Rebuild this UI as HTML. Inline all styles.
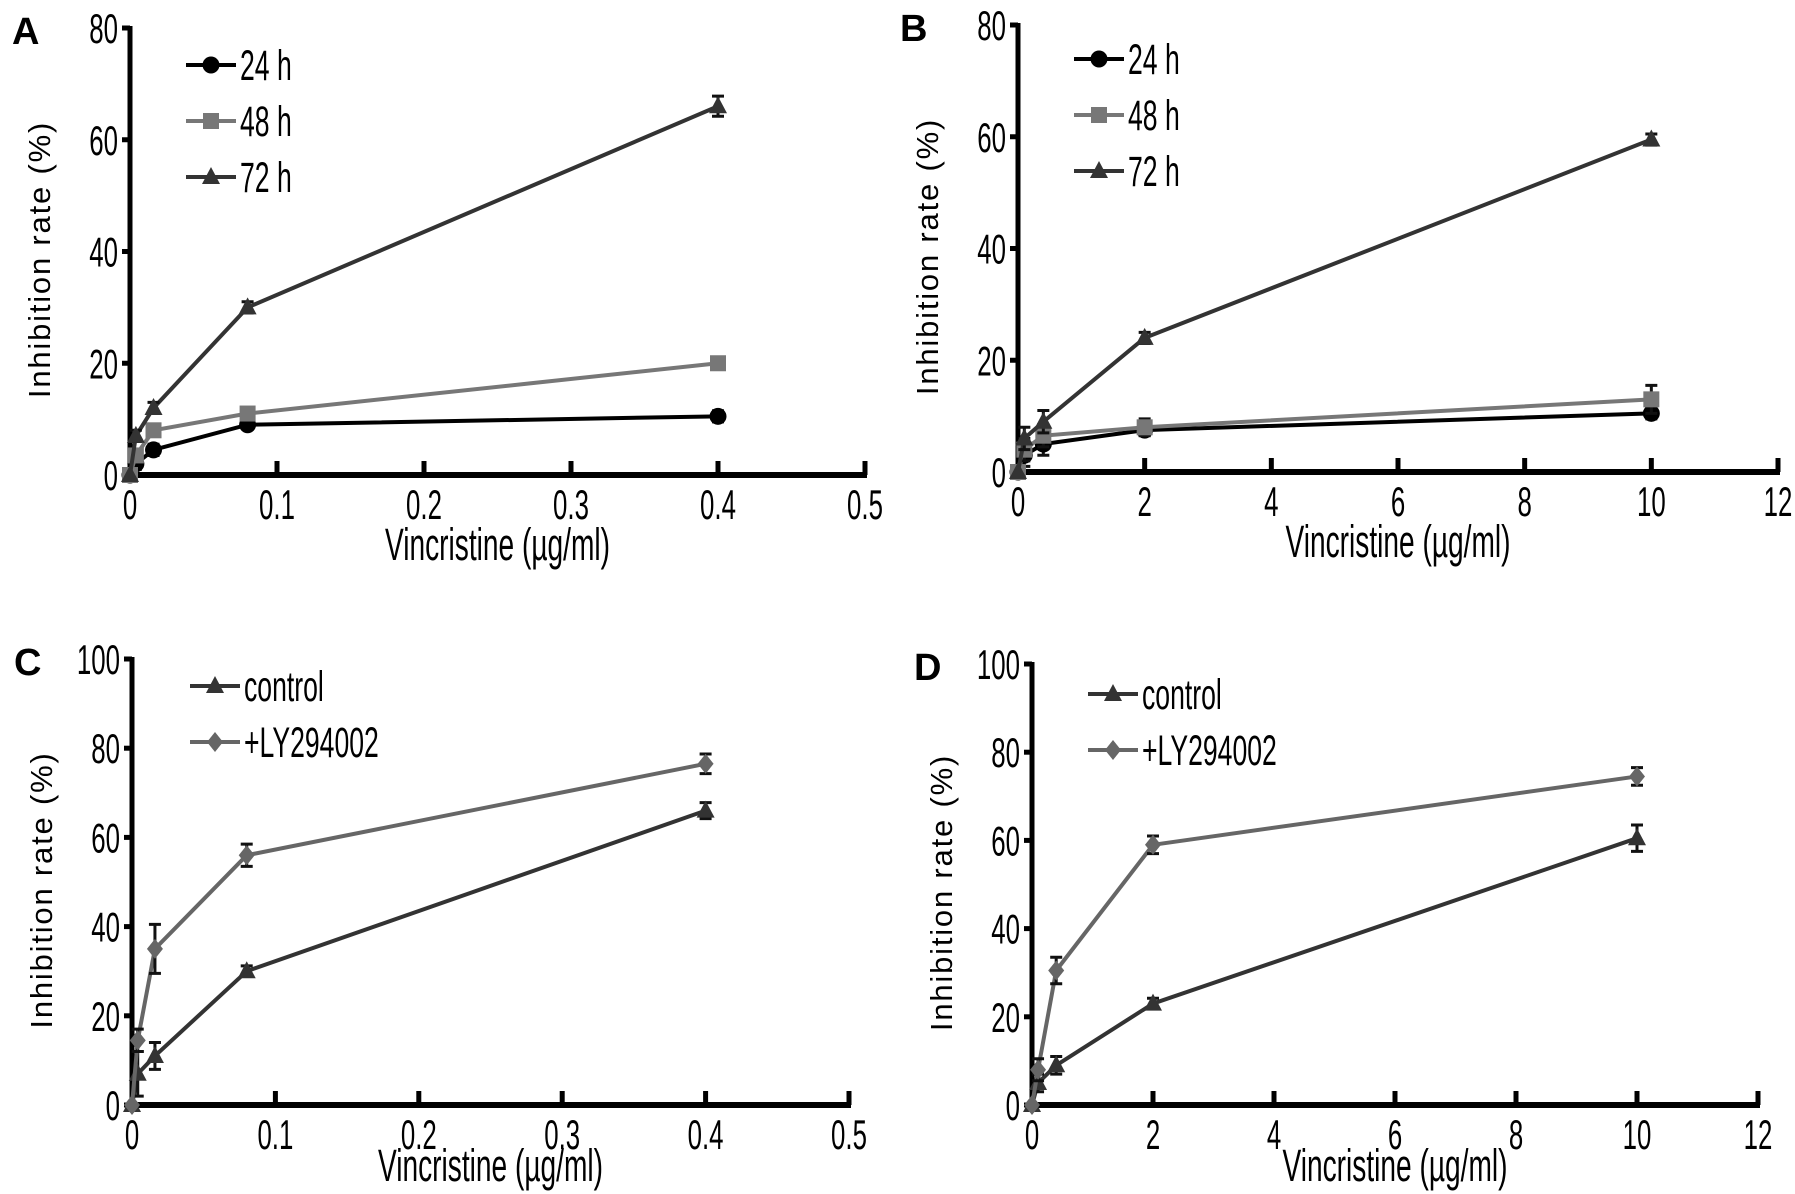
<!DOCTYPE html>
<html><head><meta charset="utf-8"><style>
html,body{margin:0;padding:0;background:#fff}
svg{display:block}
text{font-family:"Liberation Sans",sans-serif}
.lab{font-weight:bold}
</style></head><body>
<svg id="fig" width="1795" height="1194" viewBox="0 0 1795 1194" xmlns="http://www.w3.org/2000/svg"></svg>
<script>
// Panel A data
const aX = [0, 0.004, 0.016, 0.08, 0.4];
const a24 = [0, 2, 4.5, 9, 10.5];
const a48 = [0, 3.5, 8, 11, 20];
const a72 = [0, 7, 12, 30, 66];
const a24e = [0, 1, 1, 0.8, 1];
const a48e = [0, 1, 1, 0.8, 1];
const a72e = [0, 1, 1, 1, 1.8];
// Panel B data
const bX = [0, 0.1, 0.4, 2, 10];
const b24 = [0, 3, 5, 7.5, 10.5];
const b48 = [0, 4, 6.5, 8, 13];
const b72 = [0, 6, 9, 24, 59.5];
const b24e = [0, 2, 2, 1, 1];
const b48e = [0, 2, 2, 1.5, 2.5];
const b72e = [0, 2, 2, 1, 1];
// Panel C data
const cX = [0, 0.004, 0.016, 0.08, 0.4];
const cCtrl = [0, 7, 11, 30, 66];
const cLY = [0, 14.5, 35, 56, 76.5];
const cCtrle = [0, 5, 3, 1.2, 1.8];
const cLYe = [0, 2.5, 5.5, 2.5, 2.2];
// Panel D data
const dX = [0, 0.1, 0.4, 2, 10];
const dCtrl = [0, 5, 9, 23, 60.5];
const dLY = [0, 8, 30.5, 59, 74.5];
const dCtrle = [0, 2, 2, 1.2, 3];
const dLYe = [0, 2.5, 3, 2, 2];
// Tick labels
const xTicksAB1 = [0, 0.1, 0.2, 0.3, 0.4, 0.5];
const xTicksAB2 = [0, 2, 4, 6, 8, 10, 12];
const yTicks80 = [0, 20, 40, 60, 80];
const yTicks100 = [0, 20, 40, 60, 80, 100];

const NS = "http://www.w3.org/2000/svg";
const svg = document.getElementById('fig');
function mk(tag, attrs, parent) {
  const e = document.createElementNS(NS, tag);
  for (const k in attrs) e.setAttribute(k, attrs[k]);
  (parent || svg).appendChild(e);
  return e;
}
function ntext(parent, x, y, anchor, size, str) {
  const t = mk('text', {x: 0, y: 0, 'text-anchor': anchor, 'font-size': size, transform: `translate(${x},${y}) scale(0.76,1.22)`}, parent);
  t.textContent = str;
  return t;
}
function marker(g, shape, cx, cy, color) {
  let m;
  if (shape === 'circle') m = mk('circle', {cx, cy, r: 8.5, fill: color}, g);
  else if (shape === 'square') m = mk('rect', {x: cx - 8, y: cy - 8, width: 16, height: 16, fill: color}, g);
  else if (shape === 'tri') m = mk('polygon', {points: `${cx},${cy - 10} ${cx + 9},${cy + 7} ${cx - 9},${cy + 7}`, fill: color}, g);
  else m = mk('polygon', {points: `${cx},${cy - 10} ${cx + 8},${cy} ${cx},${cy + 10} ${cx - 8},${cy}`, fill: color}, g);
  return m;
}
function panel(p) {
  const g = mk('g', {});
  
  
  const xs = v => p.x0 + (v - p.xmin) / (p.xmax - p.xmin) * (p.x1 - p.x0);
  const ys = v => p.y0 - v / p.ymax * (p.y0 - p.y1);
  const ya = mk('line', {x1: p.x0, y1: p.y1 - 2, x2: p.x0, y2: p.y0 + 2, stroke: '#000', 'stroke-width': 5}, g);
  
  
  const xa = mk('line', {x1: p.x0 - 2, y1: p.y0, x2: p.x1 + 2, y2: p.y0, stroke: '#000', 'stroke-width': 6}, g);
  
  
  p.yt.forEach(t => {
    const y = ys(t);
    mk('line', {x1: p.x0 - 8, y1: y, x2: p.x0, y2: y, stroke: '#000', 'stroke-width': 5}, g);
    const tx = ntext(g, p.x0 - 12, y + 15, 'end', 34, String(t));
    
    
  });
  p.xt.forEach(t => {
    const x = xs(t);
    mk('line', {x1: x, y1: p.y0 - 14, x2: x, y2: p.y0, stroke: '#000', 'stroke-width': 5}, g);
    const tx = ntext(g, x, p.y0 + 44, 'middle', 34, String(t));
    
    
  });
  const xtitle = ntext(g, (p.x0 + p.x1) / 2, p.y0 + p.xtOff, 'middle', 37, 'Vincristine (µg/ml)');
  
  
  const ytitle = mk('text', {x: 0, y: 0, 'text-anchor': 'middle', 'font-size': 31, 'letter-spacing': 1.8, transform: `translate(${p.x0 - 80},${(p.y0 + p.y1) / 2 + 8}) rotate(-90)`}, g);
  ytitle.textContent = 'Inhibition rate (%)';
  
  
  const lab = mk('text', {class: 'lab', x: p.x0 - 118, y: p.y1 + 16, 'font-size': 38}, g);
  lab.textContent = p.letter;
  
  
  p.series.forEach((s, si) => {
    const sg = mk('g', {}, g);
    
    
    const pts = p.xv.map((v, i) => xs(v) + ',' + ys(s.v[i])).join(' ');
    const pl = mk('polyline', {points: pts, fill: 'none', stroke: s.c, 'stroke-width': 4}, sg);
    
    
    p.xv.forEach((v, i) => {
      const cx = xs(v), cy = ys(s.v[i]);
      if (s.e[i] > 0) {
        const ya1 = ys(s.v[i] + s.e[i]), ya2 = ys(s.v[i] - s.e[i]);
        const eb = mk('path', {d: `M${cx},${ya1}V${ya2}M${cx - 6},${ya1}H${cx + 6}M${cx - 6},${ya2}H${cx + 6}`, stroke: '#111', 'stroke-width': 3, fill: 'none'}, sg);
        
        
      }
      const m = marker(sg, s.m, cx, cy, s.c);
      
      
    });
    const ly = p.ly + si * p.lgap;
    const le = mk('g', {}, g);
    
    
    mk('line', {x1: p.lx, y1: ly, x2: p.lx + 50, y2: ly, stroke: s.c, 'stroke-width': 4}, le);
    marker(le, s.m, p.lx + 25, ly, s.c);
    ntext(le, p.lx + 54, ly + 15, 'start', 35, s.name);
  });
}
panel({letter: 'A', x0: 130, x1: 865, y0: 475, y1: 28, xmin: 0, xmax: 0.5, ymax: 80, xt: xTicksAB1, yt: yTicks80, xv: aX, xtOff: 85,
  lx: 186, ly: 65, lgap: 56,
  series: [{name: '24 h', v: a24, e: a24e, c: '#000', m: 'circle'},
           {name: '48 h', v: a48, e: a48e, c: '#777', m: 'square'},
           {name: '72 h', v: a72, e: a72e, c: '#333', m: 'tri'}]});
panel({letter: 'B', x0: 1018, x1: 1778, y0: 472, y1: 25, xmin: 0, xmax: 12, ymax: 80, xt: xTicksAB2, yt: yTicks80, xv: bX, xtOff: 85,
  lx: 1074, ly: 59, lgap: 56,
  series: [{name: '24 h', v: b24, e: b24e, c: '#000', m: 'circle'},
           {name: '48 h', v: b48, e: b48e, c: '#777', m: 'square'},
           {name: '72 h', v: b72, e: b72e, c: '#333', m: 'tri'}]});
panel({letter: 'C', x0: 132, x1: 849, y0: 1105, y1: 659, xmin: 0, xmax: 0.5, ymax: 100, xt: xTicksAB1, yt: yTicks100, xv: cX, xtOff: 76,
  lx: 190, ly: 686, lgap: 56,
  series: [{name: 'control', v: cCtrl, e: cCtrle, c: '#333', m: 'tri'},
           {name: '+LY294002', v: cLY, e: cLYe, c: '#666', m: 'diamond'}]});
panel({letter: 'D', x0: 1032, x1: 1758, y0: 1105, y1: 664, xmin: 0, xmax: 12, ymax: 100, xt: xTicksAB2, yt: yTicks100, xv: dX, xtOff: 76,
  lx: 1088, ly: 694, lgap: 56,
  series: [{name: 'control', v: dCtrl, e: dCtrle, c: '#333', m: 'tri'},
           {name: '+LY294002', v: dLY, e: dLYe, c: '#666', m: 'diamond'}]});
</script>
</body></html>
